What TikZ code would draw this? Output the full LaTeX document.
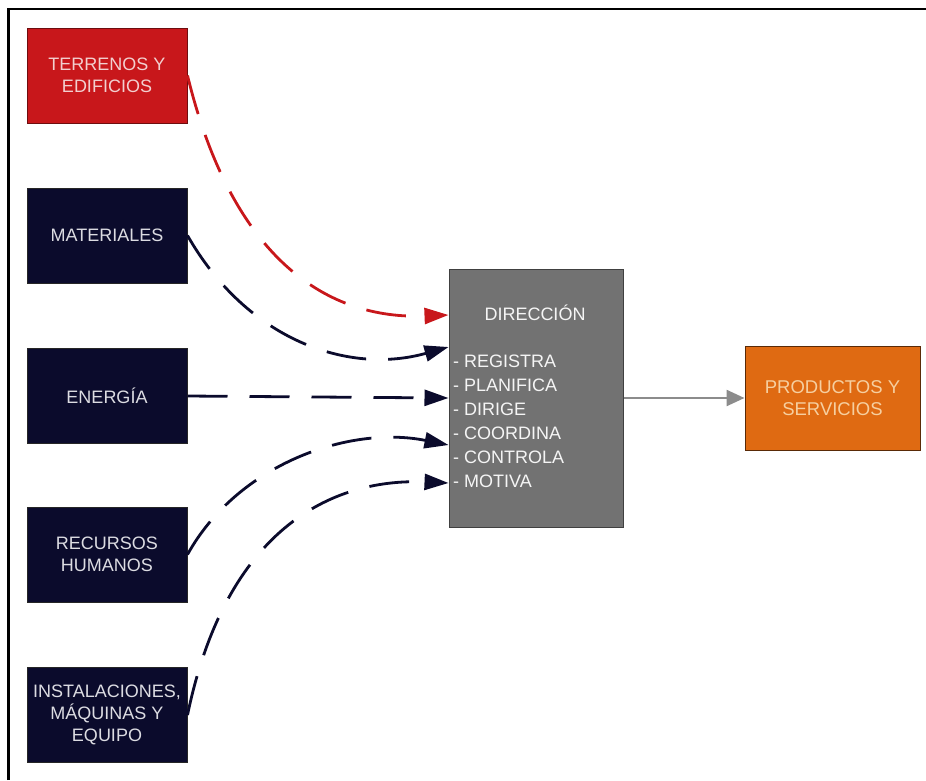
\documentclass[tikz,border=0pt]{standalone}
\usepackage{fontspec}
\setmainfont{Liberation Sans}
\usetikzlibrary{arrows.meta}

\definecolor{navy}{HTML}{0B0B2C}
\definecolor{brick}{HTML}{C8171B}
\definecolor{slate}{HTML}{727272}
\definecolor{amber}{HTML}{DF6A12}
\definecolor{palegray}{HTML}{DCDCE2}
\definecolor{palepink}{HTML}{F2CFCF}
\definecolor{palepeach}{HTML}{F6CFA0}
\definecolor{flowgray}{HTML}{8C8C8C}

\tikzset{
  srcbox/.style={draw=black!85, line width=1pt, fill=navy, text=palegray,
    minimum width=160pt, minimum height=95pt, inner sep=0pt, align=center,
    font=\fontsize{18}{22}\selectfont},
  flow/.style={line width=2.8pt, dash pattern=on 40pt off 22pt,
    -{Triangle[length=24pt,width=16pt]}},
  listitem/.style={anchor=base west, inner sep=0pt, text=white!92!gray,
    font=\fontsize{18}{22}\selectfont}
}

\begin{document}
\begin{tikzpicture}[x=1pt,y=-1pt]
\useasboundingbox (0,0) rectangle (926,780);

% partial frame
\draw[line width=2.5pt] (8.5,780) -- (8.5,9) -- (926,9);

% inputs
\node[srcbox, fill=brick, draw=brick!55!black, text=palepink] (terr) at (107,75.5) {TERRENOS Y\\EDIFICIOS};
\node[srcbox] (mat)  at (107,235.5) {MATERIALES};
\node[srcbox] (ener) at (107,396)   {ENERGÍA};
\node[srcbox] (rec)  at (107,554.5) {RECURSOS\\HUMANOS};
\node[srcbox] (inst) at (107,715)   {INSTALACIONES,\\MÁQUINAS Y\\EQUIPO};

% management block
\node[draw=black!75, line width=1pt, fill=slate, minimum width=174pt,
      minimum height=258pt, inner sep=0pt] (dir) at (536,398) {};
\node[text=white!92!gray, inner sep=0pt, font=\fontsize{18}{22}\selectfont]
      (dirtitle) at (535,313) {DIRECCIÓN};
\foreach \t [count=\i] in {REGISTRA,PLANIFICA,DIRIGE,COORDINA,CONTROLA,MOTIVA}
  \node[listitem] (item\i) at (453,{367.5+24*(\i-1)}) {- \t};

% output
\node[draw=amber!40!black, line width=1pt, fill=amber, text=palepeach,
      minimum width=175pt, minimum height=104pt, inner sep=0pt, align=center,
      font=\fontsize{18.5}{22}\selectfont] (prod) at (832.5,398) {PRODUCTOS Y\\SERVICIOS};

% flows into the management block
\draw[flow, brick] (terr.east) .. controls +(45,185) and +(-120,5) .. ([yshift=83pt]dir.west);
\draw[flow, navy] (mat.east) .. controls +(60,105) and +(-100,28) .. ([yshift=51pt]dir.west);
\draw[flow, navy] (ener.east) -- (dir.west);
\draw[flow, navy] (rec.east) .. controls +(50,-90) and +(-100,-20) .. ([yshift=-47pt]dir.west);
\draw[flow, navy] (inst.east) .. controls +(40,-193) and +(-110,-5) .. ([yshift=-85pt]dir.west);

% flow out
\draw[line width=2.5pt, flowgray, -{Triangle[length=18pt,width=16pt]}] (dir.east) -- (prod.west);
\end{tikzpicture}
\end{document}
